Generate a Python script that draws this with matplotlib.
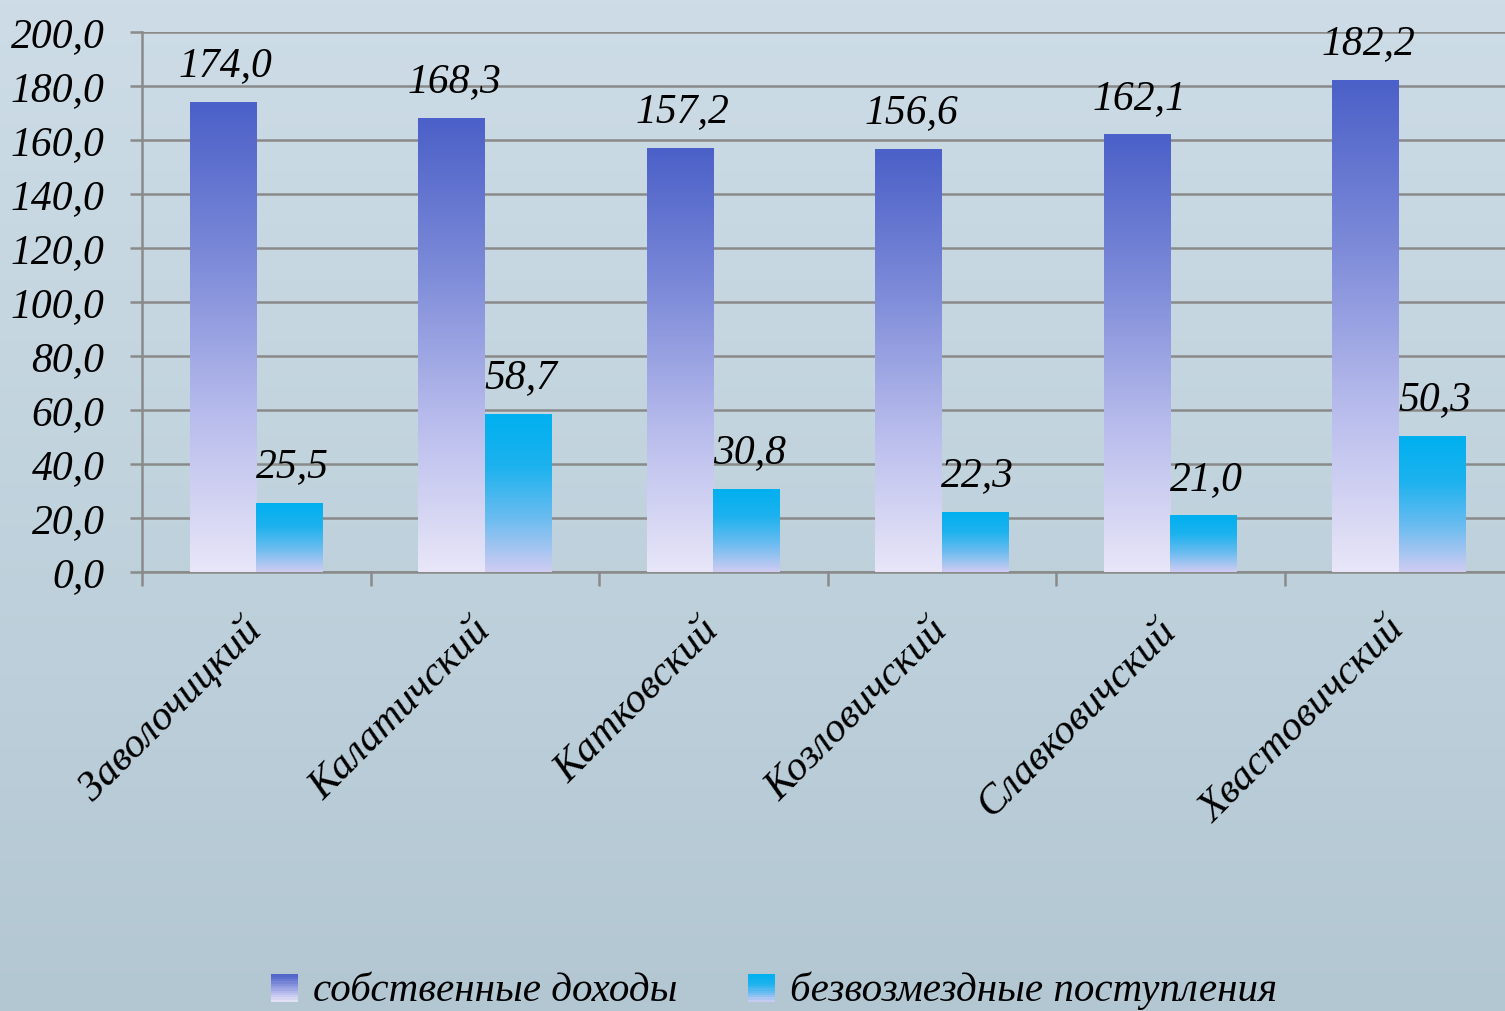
import numpy as np
import matplotlib
matplotlib.use("Agg")
import matplotlib.pyplot as plt
from matplotlib.colors import LinearSegmentedColormap
from matplotlib.patches import Rectangle
from matplotlib.legend_handler import HandlerBase

categories = ['Заволочицкий', 'Калатичский', 'Катковский', 'Козловичский', 'Славковичский', 'Хвастовичский']
own_income = [174.0, 168.3, 157.2, 156.6, 162.1, 182.2]
grants = [25.5, 58.7, 30.8, 22.3, 21.0, 50.3]
series_names = ['собственные доходы', 'безвозмездные поступления']
y_ticks = [0, 20, 40, 60, 80, 100, 120, 140, 160, 180, 200]

FONT = 'Liberation Serif'
plt.rcParams['font.family'] = [FONT, 'DejaVu Serif']

W, H = 1505, 1011
fig = plt.figure(figsize=(W / 100, H / 100), dpi=100)

# background
bg = fig.add_axes([0, 0, 1, 1], zorder=-10)
bg_cmap = LinearSegmentedColormap.from_list('bg', ['#cddce6', '#c5d6e0', '#bccfda', '#b3c7d3'])
grad = np.linspace(0, 1, 256).reshape(-1, 1)
bg.imshow(grad, aspect='auto', cmap=bg_cmap, extent=[0, 1, 0, 1], origin='upper')
bg.set_axis_off()

ax_left, ax_right = 142 / W, 1513 / W
ax_bottom, ax_top = 1 - 572 / H, 1 - 32 / H
ax = fig.add_axes([ax_left, ax_bottom, ax_right - ax_left, ax_top - ax_bottom])
ax.patch.set_alpha(0)

n = len(categories)
x = np.arange(n)
bw = 0.29
cmap_blue = LinearSegmentedColormap.from_list('b', ['#e8e6f8', '#b8bcec', '#7c8ad8', '#4b60c8'])
cmap_cyan = LinearSegmentedColormap.from_list('c', ['#d0ccf2', '#6cbcf0', '#1cb2ee', '#00b0f0'])

bars1 = ax.bar(x - bw / 2, own_income, bw, color='none', edgecolor='none', zorder=3)
bars2 = ax.bar(x + bw / 2, grants, bw, color='none', edgecolor='none', zorder=3)

gvert = np.linspace(0, 1, 256).reshape(-1, 1)
for bars, cm in ((bars1, cmap_blue), (bars2, cmap_cyan)):
    for b in bars:
        x0, y0 = b.get_x(), b.get_y()
        w, h = b.get_width(), b.get_height()
        im = ax.imshow(gvert, aspect='auto', cmap=cm, origin='lower',
                       extent=[x0, x0 + w, y0, y0 + h], zorder=3, interpolation='bicubic')
        im.set_clip_path(b)

def fmt(v):
    return f"{v:.1f}".replace('.', ',')

for bars, vals in ((bars1, own_income), (bars2, grants)):
    for b, v in zip(bars, vals):
        ax.annotate(fmt(v), (b.get_x() + b.get_width() / 2, v), xytext=(2, 12),
                    textcoords='offset points', ha='center', va='bottom',
                    fontsize=30, fontstyle='italic', color='black', zorder=5)

ax.set_xlim(-0.5, n - 0.5)
ax.set_ylim(0, 200)
ax.set_yticks(y_ticks)
ax.set_yticklabels([fmt(v) for v in y_ticks], fontsize=30, fontstyle='italic')
ax.yaxis.grid(True, color='#8a8a8a', linewidth=1.8, zorder=1)
ax.set_axisbelow(True)
ax.tick_params(axis='y', length=9, width=1.8, color='#8a8a8a', pad=18)

ax.set_xticks(np.arange(n + 1) - 0.5)
ax.set_xticklabels([])
ax.tick_params(axis='x', which='major', length=10, width=1.8, color='#8a8a8a')
ax.set_xticks(x, minor=True)
ax.set_xticklabels(categories, minor=True, rotation=45, ha='right', va='center',
                   rotation_mode='anchor', fontsize=30, fontstyle='italic')
ax.tick_params(axis='x', which='minor', length=0, pad=38)

for s in ['top', 'right']:
    ax.spines[s].set_visible(False)
for s in ['left', 'bottom']:
    ax.spines[s].set_color('#8a8a8a')
    ax.spines[s].set_linewidth(1.8)


class GradHandler(HandlerBase):
    def __init__(self, cm):
        super().__init__()
        self.cm = cm

    def create_artists(self, legend, orig_handle, xdescent, ydescent, width, height, fontsize, trans):
        arts = []
        k = 12
        size = height * 0.95
        x0 = xdescent + width - size
        y0 = -ydescent - size * 0.05
        for i in range(k):
            r = Rectangle((x0, y0 + i * size / k), size, size / k + 0.3,
                          facecolor=self.cm((i + 0.5) / k), edgecolor='none', transform=trans)
            arts.append(r)
        return arts


h1 = Rectangle((0, 0), 1, 1)
h2 = Rectangle((0, 0), 1, 1)
leg = fig.legend([h1, h2], series_names, loc='lower center', bbox_to_anchor=(0.511, -0.035), ncol=2,
                 frameon=False, handler_map={h1: GradHandler(cmap_blue), h2: GradHandler(cmap_cyan)},
                 prop={'family': FONT, 'style': 'italic', 'size': 29.5},
                 handlelength=0.9, handletextpad=0.35, columnspacing=1.5)

fig.savefig('out.png', dpi=100)
